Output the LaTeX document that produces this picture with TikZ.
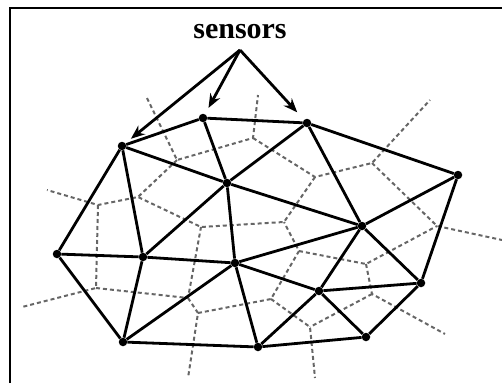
\documentclass[tikz,border=0pt]{standalone}
\usepackage{fontspec}
\setmainfont{Liberation Serif}
\usetikzlibrary{arrows.meta}
\tikzset{
  sensor/.style={circle, fill=black, inner sep=0pt, minimum size=8.5pt},
  mesh/.style={line width=2.8pt, black},
  cell/.style={line width=2pt, black!60, dash pattern=on 4pt off 3pt},
  pointer/.style={line width=2.8pt, -{Stealth[length=14pt,width=11pt]}, shorten >=7pt}
}
\begin{document}
\begin{tikzpicture}[x=1pt,y=-1pt]
    \useasboundingbox (0,0) rectangle (502,383);
    %Frame of the figure
    \draw[line width=2.5pt] (10,383) -- (10,8) -- (502,8);

    % Corners of the Voronoi cells
    \coordinate (v1) at (177,160);
    \coordinate (v2) at (253,138);
    \coordinate (v3) at (315,177);
    \coordinate (v4) at (372,163);
    \coordinate (v5) at (437,226);
    \coordinate (v6) at (138,197);
    \coordinate (v7) at (98,205);
    \coordinate (v8) at (201,227);
    \coordinate (v9) at (284,222);
    \coordinate (v10) at (96,288);
    \coordinate (v11) at (188,298);
    \coordinate (v12) at (198,313);
    \coordinate (v13) at (271,299);
    \coordinate (v14) at (299,251);
    \coordinate (v15) at (366,264);
    \coordinate (v16) at (372,294);
    \coordinate (v17) at (310,327);
    % Open ends of the outer cells
    \coordinate (r1) at (147,98);
    \coordinate (r2) at (258,95);
    \coordinate (r4) at (430,100);
    \coordinate (r5) at (502,240);
    \coordinate (r7) at (47,190);
    \coordinate (r10) at (22,307);
    \coordinate (r12) at (188,378);
    \coordinate (r16) at (445,334);
    \coordinate (r17) at (315,378);

    % Add the Voronoi cell borders
    \draw[cell] (r1) -- (v1) -- (v2) -- (r2);
    \draw[cell] (v1) -- (v6) -- (v7) -- (r7);
    \draw[cell] (v2) -- (v3) -- (v4) -- (r4);
    \draw[cell] (v4) -- (v5) -- (r5);
    \draw[cell] (v3) -- (v9) -- (v8) -- (v6);
    \draw[cell] (v7) -- (v10) -- (r10);
    \draw[cell] (v10) -- (v11) -- (v8);
    \draw[cell] (v11) -- (v12) -- (r12);
    \draw[cell] (v12) -- (v13) -- (v14) -- (v9);
    \draw[cell] (v14) -- (v15) -- (v5);
    \draw[cell] (v15) -- (v16) -- (r16);
    \draw[cell] (v13) -- (v17) -- (r17);
    \draw[cell] (v16) -- (v17);

    % Add the sensors
    \node[sensor] (A) at (122,146) {};
    \node[sensor] (B) at (203,118) {};
    \node[sensor] (C) at (307,123) {};
    \node[sensor] (D) at (458,175) {};
    \node[sensor] (E) at (227,183) {};
    \node[sensor] (F) at (362,226) {};
    \node[sensor] (G) at (57,254) {};
    \node[sensor] (H) at (143,257) {};
    \node[sensor] (I) at (235,263) {};
    \node[sensor] (J) at (319,291) {};
    \node[sensor] (K) at (421,283) {};
    \node[sensor] (L) at (123,342) {};
    \node[sensor] (M) at (258,347) {};
    \node[sensor] (N) at (366,337) {};

    % Add the outer edges of the triangulation
    \draw[mesh] (A) -- (B) -- (C) -- (D) -- (K) -- (N) -- (M) -- (L) -- (G) -- (A);
    % Add the inner edges
    \draw[mesh] (B) -- (E) -- (C);
    \draw[mesh] (A) -- (E) -- (F) -- (C);
    \draw[mesh] (D) -- (F) -- (K) -- (J) -- (N);
    \draw[mesh] (A) -- (H) -- (E) -- (I) -- (F) -- (J) -- (M);
    \draw[mesh] (G) -- (H) -- (I) -- (J);
    \draw[mesh] (H) -- (L) -- (I) -- (M);

    % Add the label and its arrows
    \node (label) at (240,32) {\bfseries\fontsize{30}{31}\selectfont sensors};
    \coordinate (apex) at (240,50);
    \draw[pointer] (apex) -- (A);
    \draw[pointer] (apex) -- (B);
    \draw[pointer, shorten >=10pt] (apex) -- (C);
\end{tikzpicture}
\end{document}
